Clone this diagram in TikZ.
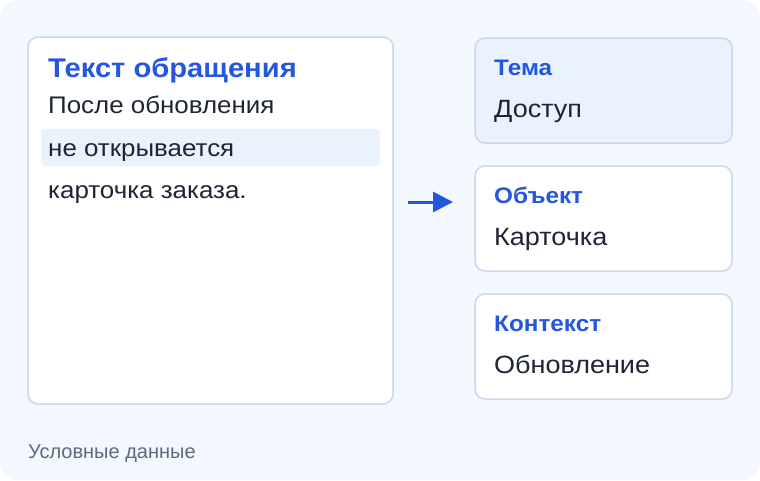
\documentclass[tikz,border=0pt]{standalone}
\usepackage{fontspec}
\setmainfont{Liberation Sans}
\newfontfamily\wfont[FakeStretch=1.08]{Liberation Sans}
\usetikzlibrary{arrows.meta}
\definecolor{bg}{HTML}{F3F7FE}
\definecolor{bordc}{HTML}{CBD8EA}
\definecolor{accent}{HTML}{2456E0}
\definecolor{ink}{HTML}{1E2533}
\definecolor{hl}{HTML}{EAF2FE}
\definecolor{muted}{HTML}{5E6B7E}
\tikzset{
  card/.style={draw=bordc, line width=1.5pt, rounded corners=10pt},
  ttl/.style={anchor=base west, inner sep=0pt, text=accent, font=\wfont\bfseries\fontsize{27}{30}\selectfont},
  body/.style={anchor=base west, inner sep=0pt, text=ink, font=\wfont\fontsize{24}{28}\selectfont},
  val/.style={anchor=base west, inner sep=0pt, text=ink, font=\wfont\fontsize{25}{28}\selectfont},
  lbl/.style={anchor=base west, inner sep=0pt, text=accent, font=\wfont\bfseries\fontsize{22.5}{25}\selectfont},
  foot/.style={anchor=base west, inner sep=0pt, text=muted, font=\fontsize{20}{23}\selectfont},
  arr/.style={draw=accent, line width=3pt, -{Triangle[length=20pt,width=20pt]}}
}
\begin{document}
\begin{tikzpicture}[x=1pt,y=-1pt]
\useasboundingbox (0,0) rectangle (760,480);
\fill[white] (0,0) rectangle (760,480);
\fill[bg, rounded corners=18pt] (0,0) rectangle (760,480);
% left card
\path[card, fill=white] (28,37) rectangle (393,404);
\fill[hl, rounded corners=4pt] (41,129) rectangle (380,166);
\node[ttl] (title) at (48,77) {Текст обращения};
\node[body] (l1) at (48,113) {После обновления};
\node[body] (l2) at (48,156) {не открывается};
\node[body] (l3) at (48,198) {карточка заказа.};
% arrow
\coordinate (as) at (408,202);
\coordinate (ae) at (453,202);
\draw[arr] (as) -- (ae);
% right cards
\path[card, fill=hl] (475,38) rectangle (732,143);
\node[lbl] (k1) at (494,75) {Тема};
\node[val] (v1) at (494,117) {Доступ};
\path[card, fill=white] (475,166) rectangle (732,271);
\node[lbl] (k2) at (494,203) {Объект};
\node[val] (v2) at (494,245) {Карточка};
\path[card, fill=white] (475,294) rectangle (732,399);
\node[lbl] (k3) at (494,331) {Контекст};
\node[val] (v3) at (494,373) {Обновление};
\node[foot] (ft) at (28,458) {Условные данные};
\end{tikzpicture}
\end{document}
